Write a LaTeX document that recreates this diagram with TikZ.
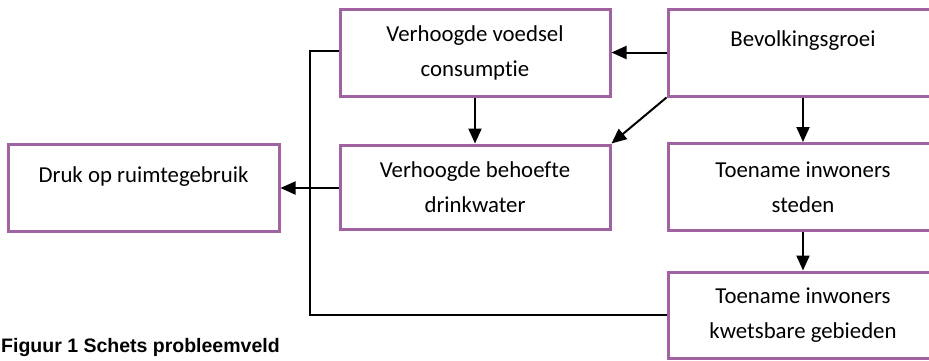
\documentclass[tikz,border=0pt]{standalone}
\usepackage{fontspec}
\setmainfont{Carlito}[Ligatures=NoCommon]
\newfontfamily\capfont{Liberation Sans}
\usetikzlibrary{arrows.meta}
\definecolor{boxpurple}{RGB}{160,98,160}
\begin{document}
\begin{tikzpicture}[x=1pt,y=-1pt,
  box/.style={draw=boxpurple,line width=3pt,fill=white,rectangle,inner sep=0pt,
    minimum width=270pt,minimum height=87pt,align=center,
    font=\fontsize{22.8}{35}\selectfont},
  conn/.style={draw=black,line width=2pt},
  arr/.style={conn,-{Triangle[length=15pt,width=13pt]}}]
\clip (0,0) rectangle (929,360);
\fill[white] (0,0) rectangle (929,360);
\node[box,minimum width=271pt] (druk) at (143.5,188) {Druk op ruimtegebruik\\[-18pt]\strut};
\node[box] (voedsel) at (475,53) {Verhoogde voedsel\\consumptie};
\node[box,minimum height=84pt] (behoefte) at (475,187) {Verhoogde behoefte\\drinkwater};
\node[box] (bevolking) at (803,52.5) {Bevolkingsgroei\\[-18pt]\strut};
\node[box] (steden) at (803,187) {Toename inwoners\\steden};
\node[box,minimum height=86pt] (kwets) at (803,315) {Toename inwoners\\kwetsbare gebieden};
\coordinate (bustop) at (310,51);
\coordinate (busbot) at (310,315);
\draw[conn] (voedsel.west |- bustop) -- (bustop) -- (busbot) -- (kwets.west);
\draw[arr] (behoefte.west |- 0,188) -- (druk.east |- 0,188);
\draw[arr] (bevolking.west) -- (voedsel.east |- bevolking.west);
\draw[arr] (bevolking.south west) -- (behoefte.north east);
\draw[arr] (voedsel.south) -- (behoefte.north);
\draw[arr] (bevolking.south) -- (steden.north);
\draw[arr] (steden.south) -- (kwets.north);
\node[anchor=base west,inner sep=0pt,font=\capfont\bfseries\fontsize{19.5}{22}\selectfont] (cap) at (1,352) {Figuur 1 Schets probleemveld};
\end{tikzpicture}
\end{document}
